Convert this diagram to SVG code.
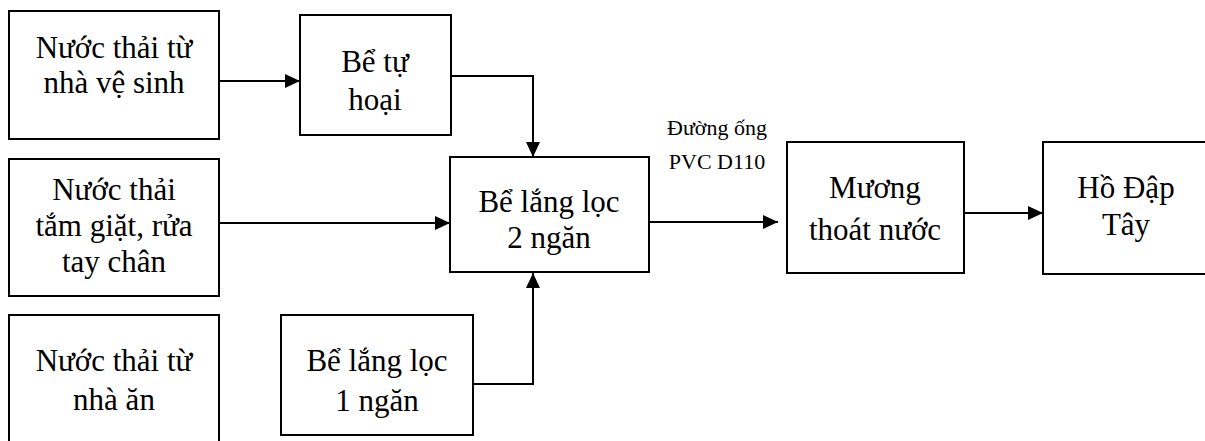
<svg xmlns="http://www.w3.org/2000/svg" width="1205" height="441" viewBox="0 0 1205 441">
<style>
.box{fill:#fff;stroke:#000;stroke-width:2}
.t{font-family:"Liberation Serif","Times New Roman",serif;font-size:31px;fill:#000;text-anchor:middle}
.lbl{font-family:"Liberation Serif","Times New Roman",serif;font-size:22px;fill:#000;text-anchor:middle}
.c{fill:none;stroke:#000;stroke-width:2}
</style>
<defs>
<marker id="ah" markerUnits="userSpaceOnUse" markerWidth="15" markerHeight="14" refX="15" refY="7" orient="auto">
<path d="M0,0 L15,7 L0,14 z" fill="#000"/>
</marker>
</defs>
<rect width="1205" height="441" fill="#fff"/>
<g id="n1"><rect class="box" x="9" y="11" width="210" height="128"/>
<text class="t" x="114" y="58">Nước thải từ</text><text class="t" x="114" y="93">nhà vệ sinh</text></g>
<g id="n2"><rect class="box" x="300" y="15" width="151" height="120"/>
<text class="t" x="375" y="72">Bể tự</text><text class="t" x="375" y="110">hoại</text></g>
<g id="n3"><rect class="box" x="9" y="159" width="210" height="137"/>
<text class="t" x="114" y="200">Nước thải</text><text class="t" x="114" y="236">tắm giặt, rửa</text><text class="t" x="114" y="272">tay chân</text></g>
<g id="n4"><rect class="box" x="9" y="315" width="210" height="135"/>
<text class="t" x="114" y="371">Nước thải từ</text><text class="t" x="114" y="410">nhà ăn</text></g>
<g id="n5"><rect class="box" x="281" y="315" width="192" height="120"/>
<text class="t" x="377" y="371">Bể lắng lọc</text><text class="t" x="377" y="411">1 ngăn</text></g>
<g id="n6"><rect class="box" x="450" y="157" width="199" height="115"/>
<text class="t" x="549" y="212">Bể lắng lọc</text><text class="t" x="549" y="248">2 ngăn</text></g>
<g id="n7"><rect class="box" x="787" y="142" width="177" height="131"/>
<text class="t" x="875" y="198">Mương</text><text class="t" x="875" y="240">thoát nước</text></g>
<g id="n8"><rect class="box" x="1043" y="142" width="167" height="132"/>
<text class="t" x="1126" y="198">Hồ Đập</text><text class="t" x="1126" y="235">Tây</text></g>
<g id="connectors">
<path class="c" d="M219,81 H300" marker-end="url(#ah)"/>
<path class="c" d="M451,76 H533 V157" marker-end="url(#ah)"/>
<path class="c" d="M219,223 H450" marker-end="url(#ah)"/>
<path class="c" d="M473,384 H533 V273" marker-end="url(#ah)"/>
<path class="c" d="M649,222 H778" marker-end="url(#ah)"/>
<path class="c" d="M964,213 H1043" marker-end="url(#ah)"/>
<text class="lbl" x="717" y="135">Đường ống</text>
<text class="lbl" x="717" y="169">PVC D110</text>
</g>
</svg>
